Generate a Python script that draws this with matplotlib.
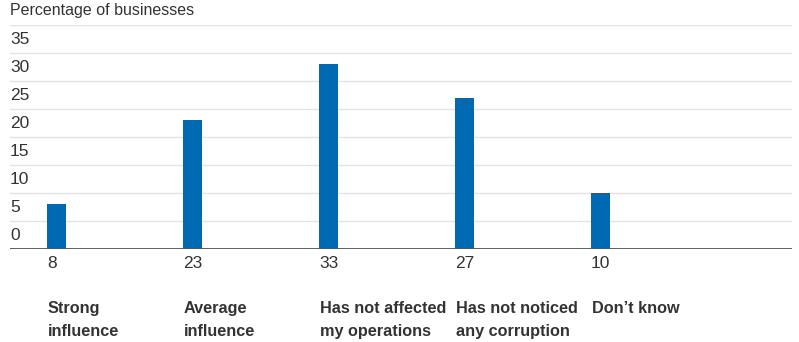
import matplotlib
matplotlib.use("Agg")
from matplotlib import pyplot as plt

# values
categories = ["Strong\ninfluence", "Average\ninfluence", "Has not affected\nmy operations",
              "Has not noticed\nany corruption", "Don\u2019t know"]
values = [8, 23, 33, 27, 10]
y_ticks = [0, 5, 10, 15, 20, 25, 30, 35]

FONT = ["Liberation Sans Narrow", "Liberation Sans", "DejaVu Sans"]
BLUE = "#0069b4"
TEXT = "#333333"

fig = plt.figure(figsize=(7.99, 3.42), dpi=100)
# axes spans x 10..792 px, y 25 (value 40) .. 249 (value 0)
ax = fig.add_axes([10 / 799, 1 - 249 / 342, 782 / 799, 224 / 342])

bar_w = 0.14
xs = list(range(len(values)))
ax.bar(xs, values, width=bar_w, color=BLUE, zorder=3)

ax.set_xlim(-0.342, 5.408)
ax.set_ylim(0, 40)

for v in y_ticks + [40]:
    ax.axhline(v, color="#e3e3e3", lw=1.0, zorder=1)
ax.axhline(0, color="#555555", lw=1.3, zorder=4)

for v in y_ticks:
    ax.text(-0.342, v + 2.4, str(v), ha="left", va="center", fontsize=12.5,
            family=FONT, color=TEXT)

for x, v, c in zip(xs, values, categories):
    left = x - bar_w / 2
    ax.annotate(str(v), (left, 0), xytext=(0, -14), textcoords="offset pixels",
                ha="left", va="center", fontsize=12.5, family=FONT, color=TEXT)
    ax.annotate(c, (left, 0), xytext=(1, -52), textcoords="offset pixels",
                ha="left", va="top", fontsize=11.7, family=FONT, weight="bold",
                color=TEXT, linespacing=1.65)

fig.text(10 / 799, 1 - 11 / 342, "Percentage of businesses", ha="left", va="center",
         fontsize=11.5, family=FONT, color=TEXT)

ax.set_xticks([])
ax.set_yticks([])
for s in ax.spines.values():
    s.set_visible(False)
ax.patch.set_alpha(0)

plt.savefig("out.png", dpi=100)
